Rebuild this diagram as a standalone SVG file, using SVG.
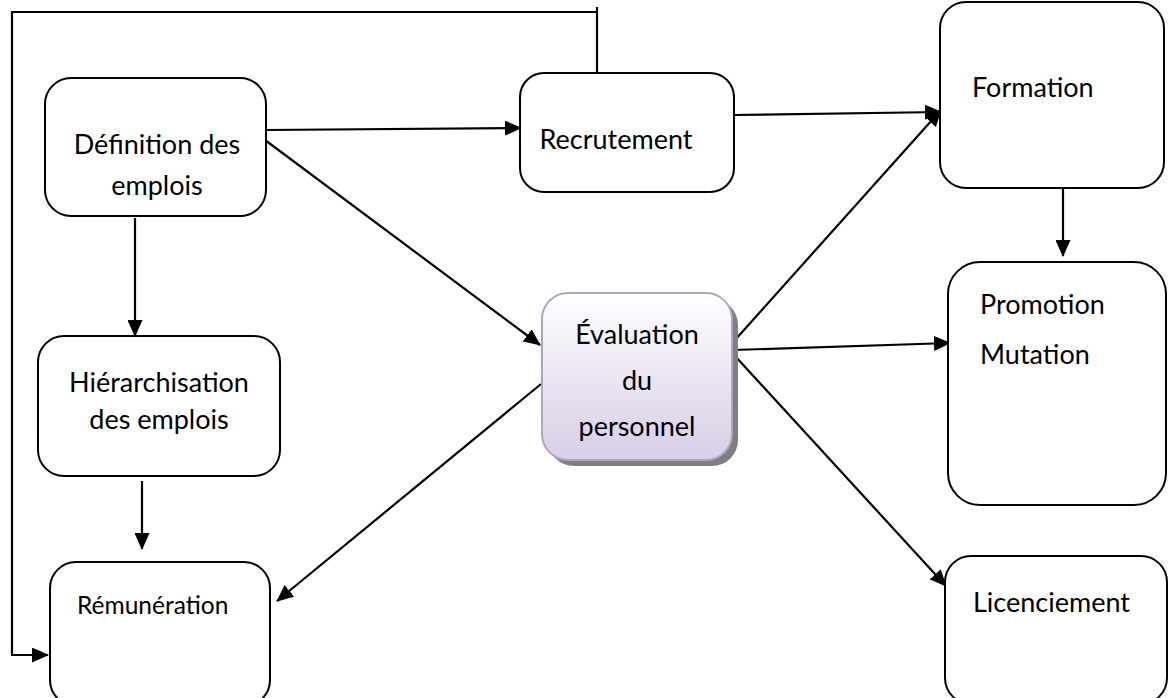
<svg xmlns="http://www.w3.org/2000/svg" width="1168" height="698" viewBox="0 0 1168 698">
<style>
.box{fill:#fff;stroke:#000;stroke-width:2}
.t{font-family:Lato,"Liberation Sans",sans-serif;font-size:27px;fill:#000}
.c{stroke:#000;stroke-width:2.2;fill:none}
.a{marker-end:url(#ah)}
</style>
<defs>
<marker id="ah" markerUnits="userSpaceOnUse" markerWidth="17" markerHeight="15" refX="16" refY="7.5" orient="auto">
<path d="M0,0 L17,7.5 L0,15 Z" fill="#000"/>
</marker>
<linearGradient id="eg" x1="0" y1="0" x2="0" y2="1">
<stop offset="0" stop-color="#ffffff"/>
<stop offset="1" stop-color="#d8cde6"/>
</linearGradient>
</defs>
<rect width="1168" height="698" fill="#fff"/>
<g id="connectors">
<polyline class="c a" points="597,73 597,12 12,12 12,655 48,655"/>
<line class="c" x1="597" y1="12" x2="597" y2="7"/>
<line class="c a" x1="265" y1="130" x2="521" y2="128"/>
<line class="c a" x1="265" y1="140" x2="540" y2="345"/>
<line class="c a" x1="135" y1="218" x2="135" y2="336"/>
<line class="c a" x1="142" y1="481" x2="142" y2="549"/>
<line class="c a" x1="541" y1="384" x2="277" y2="601"/>
<line class="c a" x1="733" y1="115" x2="941" y2="112"/>
<line class="c a" x1="735" y1="340" x2="941" y2="110"/>
<line class="c a" x1="1063" y1="189" x2="1063" y2="256"/>
<line class="c a" x1="733" y1="350" x2="950" y2="343"/>
<line class="c a" x1="735" y1="356" x2="946" y2="586"/>
</g>
<g id="definition">
<rect class="box" x="45" y="78" width="221" height="138" rx="26"/>
<text class="t" x="157" y="154" text-anchor="middle">Définition des</text>
<text class="t" x="157" y="195" text-anchor="middle">emplois</text>
</g>
<g id="recrutement">
<rect class="box" x="520" y="73" width="214" height="119" rx="24"/>
<text class="t" x="616" y="149" text-anchor="middle">Recrutement</text>
</g>
<g id="formation">
<rect class="box" x="940" y="2" width="224" height="186" rx="26"/>
<text class="t" x="972" y="97">Formation</text>
</g>
<g id="promotion">
<rect class="box" x="948" y="262" width="218" height="243" rx="32"/>
<text class="t" x="980" y="314">Promotion</text>
<text class="t" x="980" y="364">Mutation</text>
</g>
<g id="licenciement">
<rect class="box" x="945" y="556" width="222" height="148" rx="26"/>
<text class="t" x="973" y="612">Licenciement</text>
</g>
<g id="evaluation">
<rect x="548" y="299" width="190" height="167" rx="26" fill="#7f7f7f"/>
<rect x="542" y="293" width="190" height="167" rx="26" fill="url(#eg)" stroke="#b3a2c7" stroke-width="2"/>
<text class="t" x="637" y="344" text-anchor="middle">Évaluation</text>
<text class="t" x="637" y="390" text-anchor="middle">du</text>
<text class="t" x="637" y="436" text-anchor="middle">personnel</text>
</g>
<g id="hierarchisation">
<rect class="box" x="38" y="336" width="242" height="140" rx="26"/>
<text class="t" x="159" y="392" text-anchor="middle">Hiérarchisation</text>
<text class="t" x="159" y="429" text-anchor="middle">des emplois</text>
</g>
<g id="remuneration">
<rect class="box" x="50" y="562" width="220" height="144" rx="26"/>
<text class="t" x="77" y="614" style="font-size:24.5px">Rémunération</text>
</g>
</svg>
